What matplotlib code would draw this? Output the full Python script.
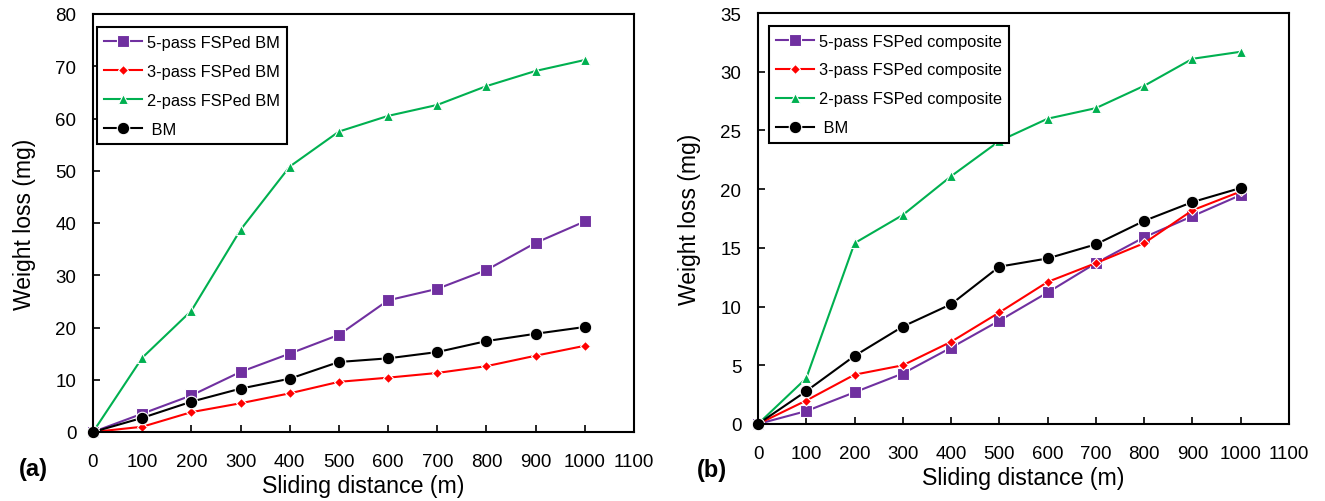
import matplotlib
matplotlib.use("Agg")
import matplotlib.pyplot as plt

plt.rcParams['font.family'] = ['Liberation Sans', 'DejaVu Sans']

distance = [0, 100, 200, 300, 400, 500, 600, 700, 800, 900, 1000]

a_5pass = [0, 3.5, 7.0, 11.5, 15.0, 18.6, 25.2, 27.4, 31.0, 36.2, 40.3]
a_3pass = [0, 1.0, 3.8, 5.5, 7.4, 9.6, 10.4, 11.3, 12.6, 14.6, 16.5]
a_2pass = [0, 14.2, 23.2, 38.7, 50.8, 57.5, 60.5, 62.6, 66.2, 69.1, 71.2]
a_bm = [0, 2.7, 5.8, 8.3, 10.2, 13.4, 14.1, 15.3, 17.4, 18.8, 20.1]

b_5pass = [0, 1.1, 2.7, 4.3, 6.5, 8.8, 11.2, 13.7, 15.9, 17.7, 19.5]
b_3pass = [0, 2.0, 4.2, 5.0, 7.0, 9.5, 12.1, 13.7, 15.4, 18.2, 19.8]
b_2pass = [0, 3.9, 15.4, 17.8, 21.1, 24.1, 26.0, 26.9, 28.8, 31.1, 31.7]
b_bm = [0, 2.8, 5.8, 8.3, 10.2, 13.4, 14.1, 15.3, 17.3, 18.9, 20.1]

labels_a = ["5-pass FSPed BM", "3-pass FSPed BM", "2-pass FSPed BM", " BM"]
labels_b = ["5-pass FSPed composite", "3-pass FSPed composite", "2-pass FSPed composite", " BM"]

xticks = [0, 100, 200, 300, 400, 500, 600, 700, 800, 900, 1000, 1100]
yticks_a = [0, 10, 20, 30, 40, 50, 60, 70, 80]
yticks_b = [0, 5, 10, 15, 20, 25, 30, 35]

colors = ["#7030A0", "#FF0000", "#00B050", "#000000"]
markers = ["s", "D", "^", "o"]
msizes = [8, 5.5, 7.5, 9]

fig = plt.figure(figsize=(13.25, 5.02), dpi=100)
ax1 = fig.add_axes([93/1325, 69/502, 541/1325, 418/502])
ax2 = fig.add_axes([758/1325, 77/502, 531/1325, 411/502])

def draw(ax, series, labels, yticks, ymax, legend_bbox):
    for y, lab, c, m, ms in zip(series, labels, colors, markers, msizes):
        ax.plot(distance, y, color=c, marker=m, markersize=ms, lw=1.5,
                markeredgecolor='white', markeredgewidth=0.8, label=lab, clip_on=False)
    ax.set_xlim(0, 1100)
    ax.set_ylim(0, ymax)
    ax.set_xticks(xticks)
    ax.set_yticks(yticks)
    ax.tick_params(direction='in', length=5, width=1.2, labelsize=13.5, top=False, right=False)
    ax.tick_params(axis='x', pad=15)
    ax.tick_params(axis='y', pad=12)
    for s in ax.spines.values():
        s.set_linewidth(1.5)
    ax.set_xlabel("Sliding distance (m)", fontsize=16.7, labelpad=3)
    ax.set_ylabel("Weight loss (mg)", fontsize=16.5, labelpad=14)
    leg = ax.legend(loc='upper left', bbox_to_anchor=legend_bbox, fontsize=11.8,
                    handlelength=2.3, labelspacing=0.85, borderpad=0.45,
                    handletextpad=0.3, fancybox=False, edgecolor='black',
                    borderaxespad=0.0, framealpha=1)
    leg.get_frame().set_linewidth(1.5)

draw(ax1, [a_5pass, a_3pass, a_2pass, a_bm], labels_a, yticks_a, 80, (0.0074, 0.968))
draw(ax2, [b_5pass, b_3pass, b_2pass, b_bm], labels_b, yticks_b, 35, (0.0207, 0.968))

fig.text(19/1325, 1 - 470/502, "(a)", fontsize=17, fontweight='bold', va='center')
fig.text(697/1325, 1 - 471/502, "(b)", fontsize=17, fontweight='bold', va='center')

fig.savefig("out.png", dpi=100)
